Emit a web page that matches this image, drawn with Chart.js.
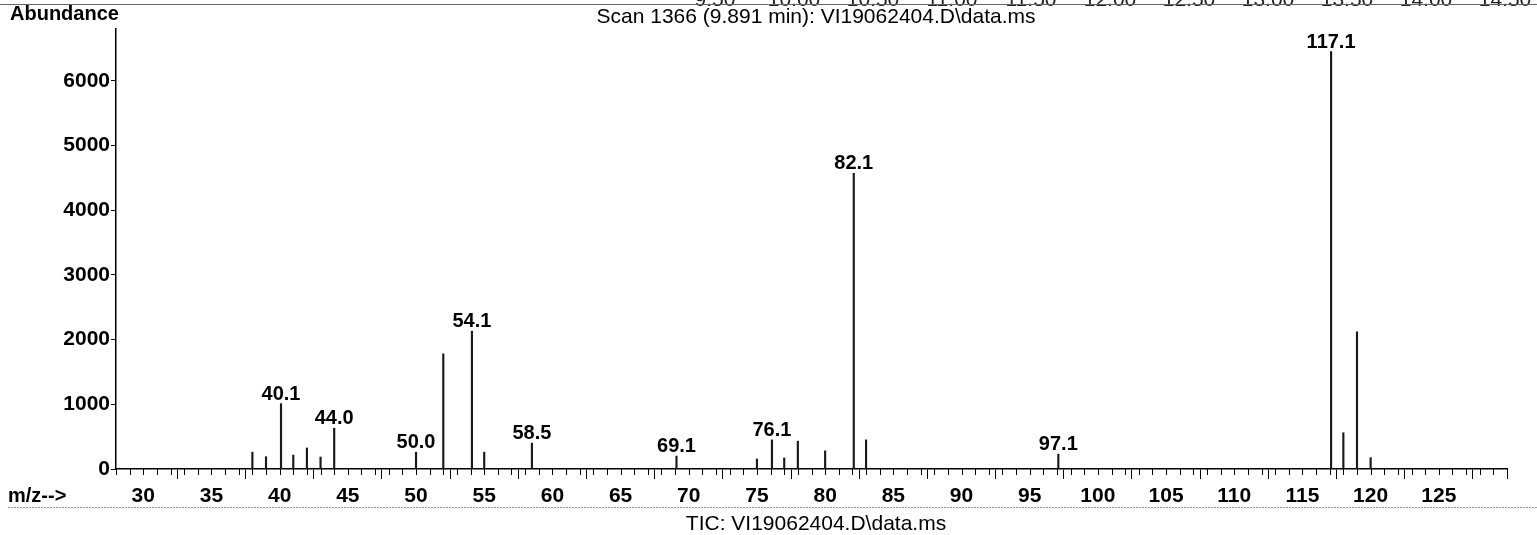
<!DOCTYPE html>
<html>
<head>
<meta charset="utf-8">
<script src="https://cdn.jsdelivr.net/npm/chart.js@4.4.1/dist/chart.umd.min.js"></script>
<style>
  html, body { margin: 0; padding: 0; background: #fff; }
</style>
</head>
<body>
<canvas id="ms" width="1537" height="535"></canvas>
<script>
// mass spectrum, scan 1366
const mz = [38, 39, 40.1, 41, 42, 43, 44.0, 50.0, 52, 54.1, 55, 58.5, 69.1, 75, 76.1, 77, 78, 80, 82.1, 83, 97.1, 117.1, 118, 119, 120];
const abundance = [260, 190, 1010, 215, 325, 185, 630, 260, 1780, 2130, 260, 400, 200, 155, 450, 170, 430, 280, 4570, 450, 230, 6450, 560, 2120, 175];
const peakLabels = ['', '', '40.1', '', '', '', '44.0', '50.0', '', '54.1', '', '58.5', '69.1', '', '76.1', '', '', '', '82.1', '', '97.1', '117.1', '', '', ''];

const xTicks = [30, 35, 40, 45, 50, 55, 60, 65, 70, 75, 80, 85, 90, 95, 100, 105, 110, 115, 120, 125];
const yTicks = [0, 1000, 2000, 3000, 4000, 5000, 6000];
// bottom edge of the chromatogram axis printed above (cut off)
const topStripLabels = ['9.50', '10.00', '10.50', '11.00', '11.50', '12.00', '12.50', '13.00', '13.50', '14.00', '14.50'];

const titleText = 'Scan 1366 (9.891 min): VI19062404.D\\data.ms';
const ticText = 'TIC: VI19062404.D\\data.ms';

const FONT = '"Liberation Sans", Arial, sans-serif';
Chart.defaults.font.family = FONT;
Chart.defaults.color = '#000';

const extras = {
  id: 'extras',
  afterDraw(chart) {
    const ctx = chart.ctx, xs = chart.scales.x, ys = chart.scales.y;
    const bottom = chart.chartArea.bottom;
    ctx.save();

    // minor ticks every 1 m/z
    ctx.strokeStyle = '#000'; ctx.lineWidth = 1;
    for (let v = Math.ceil(xs.min); v <= xs.max; v++) {
      const x = Math.round(xs.getPixelForValue(v)) + 0.5;
      ctx.beginPath(); ctx.moveTo(x, bottom); ctx.lineTo(x, bottom + (v === xs.max ? 10 : 6)); ctx.stroke();
    }

    // peak labels
    ctx.font = 'bold 20px ' + FONT; ctx.fillStyle = '#000';
    ctx.textAlign = 'center'; ctx.textBaseline = 'alphabetic';
    peakLabels.forEach((lab, i) => {
      if (!lab) return;
      ctx.fillText(lab, xs.getPixelForValue(mz[i]), ys.getPixelForValue(abundance[i]) - 4);
    });

    // texts
    ctx.font = 'bold 20px ' + FONT; ctx.textAlign = 'left';
    ctx.fillText('Abundance', 10, 20);
    ctx.fillText('m/z-->', 8, 502);
    ctx.font = '21px ' + FONT; ctx.textAlign = 'center';
    ctx.fillText(titleText, 816, 23);
    ctx.fillText(ticText, 816, 530);

    // cut-off labels of the chart above
    ctx.fillStyle = '#222';
    topStripLabels.forEach((t, i) => ctx.fillText(t, 715 + i * 79, 6));

    // rules
    ctx.strokeStyle = '#666'; ctx.lineWidth = 1;
    ctx.beginPath(); ctx.moveTo(0, 4.5); ctx.lineTo(1537, 4.5); ctx.stroke();
    ctx.setLineDash([2, 1]); ctx.strokeStyle = '#999';
    ctx.beginPath(); ctx.moveTo(8, 507.5); ctx.lineTo(1537, 507.5); ctx.stroke();
    ctx.restore();
  }
};

new Chart(document.getElementById('ms'), {
  type: 'bar',
  data: {
    datasets: [{
      data: mz.map((m, i) => ({ x: m, y: abundance[i] })),
      backgroundColor: '#1a1a1a',
      borderWidth: 0,
      barThickness: 1.5
    }]
  },
  options: {
    responsive: false,
    animation: false,
    devicePixelRatio: 1,
    layout: { padding: { top: 29, right: 30, left: 0, bottom: 0 } },
    plugins: { legend: { display: false }, tooltip: { enabled: false } },
    scales: {
      x: {
        type: 'linear', min: 28, max: 130, offset: false,
        grid: { drawOnChartArea: false, drawTicks: true, tickLength: 10, color: '#000' },
        border: { color: '#000', width: 1.5 },
        ticks: { font: { size: 21, weight: 'bold' }, color: '#000', padding: 5, maxRotation: 0, autoSkip: false, callback: v => String(v) },
        afterBuildTicks: s => { s.ticks = xTicks.map(v => ({ value: v })); },
        afterFit: s => { s.height = 66; }
      },
      y: {
        min: 0, max: 6800,
        grid: { drawOnChartArea: false, tickLength: 5, color: '#000' },
        border: { color: '#000', width: 1.5 },
        ticks: { font: { size: 21, weight: 'bold' }, color: '#000', padding: 1, callback: v => String(v) },
        afterBuildTicks: s => { s.ticks = yTicks.map(v => ({ value: v })); },
        afterFit: s => { s.width = 116; }
      }
    }
  },
  plugins: [extras]
});
</script>
</body>
</html>
